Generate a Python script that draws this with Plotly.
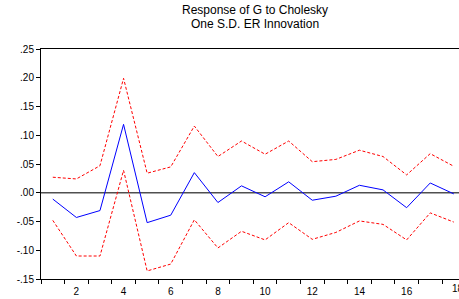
import plotly.graph_objects as go

periods = list(range(1, 19))
response = [-0.011, -0.043, -0.031, 0.119, -0.052, -0.039, 0.035, -0.017, 0.012,
            -0.007, 0.019, -0.013, -0.006, 0.013, 0.005, -0.026, 0.017, -0.002]
upper = [0.027, 0.024, 0.047, 0.199, 0.034, 0.045, 0.116, 0.063, 0.090,
         0.067, 0.090, 0.054, 0.058, 0.074, 0.063, 0.031, 0.068, 0.046]
lower = [-0.048, -0.110, -0.110, 0.039, -0.136, -0.124, -0.047, -0.096, -0.067,
         -0.082, -0.052, -0.081, -0.069, -0.049, -0.055, -0.082, -0.035, -0.051]

ytick_vals = [-0.15, -0.10, -0.05, 0.00, 0.05, 0.10, 0.15, 0.20, 0.25]
ytick_text = ["-.15", "-.10", "-.05", ".00", ".05", ".10", ".15", ".20", ".25"]
xtick_vals = [2, 4, 6, 8, 10, 12, 14, 16]
edge_tick = 18  # last label, partly cut off by the page edge as in the original
title_lines = ["Response of G to Cholesky", "One S.D. ER Innovation"]

fig = go.Figure()
fig.add_trace(go.Scatter(x=periods, y=upper, mode="lines",
                         line=dict(color="#ff0000", width=1, dash="3px,2px")))
fig.add_trace(go.Scatter(x=periods, y=lower, mode="lines",
                         line=dict(color="#ff0000", width=1, dash="3px,2px")))
fig.add_trace(go.Scatter(x=periods, y=response, mode="lines",
                         line=dict(color="#0000ff", width=1)))

fig.add_shape(type="line", xref="x", yref="y", x0=0.5, x1=18.5, y0=0, y1=0,
              line=dict(color="#505050", width=1.5), layer="below")

for txt, yy in zip(title_lines, [1.17, 1.109]):
    fig.add_annotation(text=txt, xref="paper", yref="paper", x=0.512, y=yy,
                       yanchor="middle", showarrow=False,
                       font=dict(family="Liberation Sans, Arial", size=12, color="#000000"))

fig.add_annotation(text=str(edge_tick), xref="x", yref="paper", x=edge_tick, y=0,
                   yanchor="top", yshift=-2, xshift=4, showarrow=False,
                   font=dict(family="Liberation Sans, Arial", size=10, color="#000000"))

fig.update_layout(
    width=459, height=299,
    margin=dict(l=41, r=0, t=49, b=20),
    plot_bgcolor="white", paper_bgcolor="white",
    showlegend=False,
    font=dict(family="Liberation Sans, Arial", size=10, color="#000000"),
    xaxis=dict(range=[0.5, 18.22], showgrid=False, zeroline=False,
               showline=True, linecolor="black", linewidth=1, mirror=True,
               tickmode="array", tickvals=xtick_vals, ticks="", ticklen=0,
               ticklabelstandoff=3,
               automargin=False,
               minor=dict(tick0=0.5, dtick=1, ticks="outside", ticklen=4,
                          tickcolor="black", showgrid=False)),
    yaxis=dict(range=[-0.15, 0.25], showgrid=False, zeroline=False,
               showline=True, linecolor="black", linewidth=1,
               tickmode="array", tickvals=ytick_vals, ticktext=ytick_text,
               ticks="outside", ticklen=4, tickcolor="black", automargin=False),
)

fig.write_html("out.html", config={"displayModeBar": False},
               post_script="document.body.style.margin='0';")
